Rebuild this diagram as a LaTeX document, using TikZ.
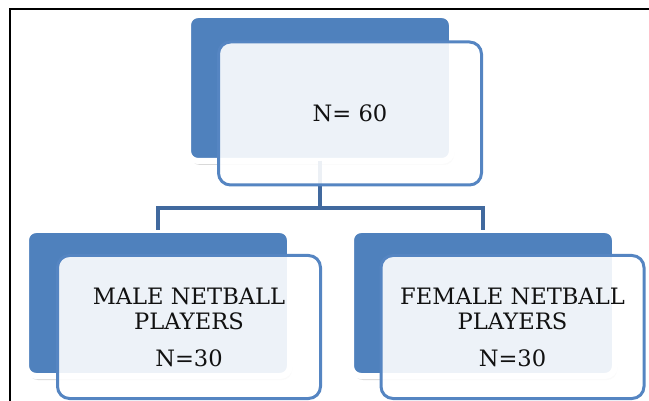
\documentclass[tikz,border=0pt]{standalone}
\usepackage{fontspec}
\setmainfont{DejaVu Serif}
\usepackage{tikz}
\usetikzlibrary{positioning,shadows}
\usepackage{xcolor}
\definecolor{officeblue}{HTML}{4F81BD}
\definecolor{frameblue}{HTML}{5585C2}
\definecolor{linkblue}{HTML}{41699E}
\definecolor{inktext}{HTML}{111111}

\begin{document}
\begin{tikzpicture}[x=1pt, y=-1pt,
    backBox/.style={rectangle, rounded corners=10pt, fill=officeblue, draw=white, line width=6pt, minimum width=264pt, minimum height=146pt, inner sep=0pt, outer sep=0pt, drop shadow={shadow xshift=2pt, shadow yshift=-4pt, opacity=0.25, fill=black!60}},
    frontBox/.style={rectangle, rounded corners=12pt, draw=frameblue, line width=3pt, fill=white, fill opacity=0.9, text opacity=1, text=inktext, minimum width=263pt, minimum height=143pt, inner sep=0pt, outer sep=0pt, align=center, font=\fontsize{22.6}{25}\selectfont},
    link/.style={draw=linkblue, line width=3.5pt}
]
    \useasboundingbox (0,0) rectangle (649,401);

    % frame of the page
    \draw[line width=2pt, black] (10,401) -- (10,9) -- (649,9);

    \node[backBox] (topBack)    at (320, 88)  {};
    \node[backBox] (maleBack)   at (158, 303) {};
    \node[backBox] (femaleBack) at (483, 303) {};

    \coordinate (split) at (320, 208);
    \draw[link] (topBack.south) -- (split) -| (maleBack.north);
    \draw[link] (split) -| (femaleBack.north);

    \node[frontBox] (topFront)    at (350, 113.5) {N= 60};
    \node[frontBox] (maleFront)   at (189, 327)   {MALE NETBALL\\PLAYERS\\[12pt]N=30};
    \node[frontBox] (femaleFront) at (512.5, 327) {FEMALE NETBALL\\PLAYERS\\[12pt]N=30};
\end{tikzpicture}
\end{document}
